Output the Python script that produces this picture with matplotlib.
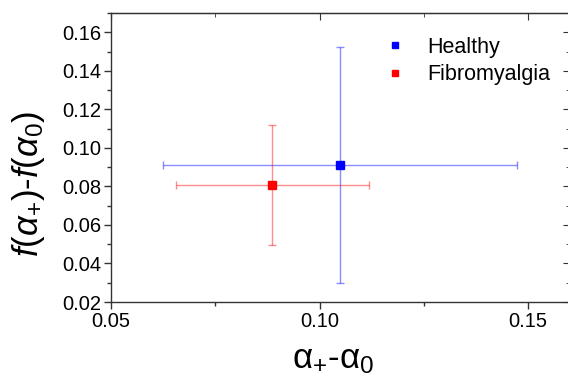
import numpy as np
import matplotlib
matplotlib.use("Agg")
import matplotlib.pyplot as plt
from matplotlib.ticker import MultipleLocator, FormatStrFormatter

# group means and error half-widths
groups = ["Healthy", "Fibromyalgia"]
x_mean = [0.1049, 0.0887]
y_mean = [0.0911, 0.0806]
x_err = [0.0424, 0.0231]
y_err = [0.0611, 0.0312]
colors = ["#0000ff", "#ff0000"]

plt.rcParams.update(
    {
        "font.family": ["Liberation Sans", "DejaVu Sans"],
        "mathtext.fontset": "custom",
        "mathtext.rm": "Liberation Sans",
        "mathtext.it": "Liberation Sans:italic",
        "font.size": 14,
    }
)

fig = plt.figure(figsize=(5.68, 3.78), dpi=100)
ax = fig.add_axes([111 / 568, 1 - 302 / 378, (569.7 - 111) / 568, (302 - 13) / 378])

for name, xm, ym, xe, ye, c in zip(groups, x_mean, y_mean, x_err, y_err, colors):
    ax.errorbar(xm, ym, xerr=xe, yerr=ye, fmt="none", ecolor=c, alpha=0.45,
                elinewidth=1, capsize=3, capthick=1)
    ax.plot(xm, ym, "s", color=c, ms=6, label=name, zorder=3)

ax.set_xlim(0.05, 0.16)
ax.set_ylim(0.02, 0.17)
ax.xaxis.set_major_locator(MultipleLocator(0.05))
ax.xaxis.set_minor_locator(MultipleLocator(0.025))
ax.yaxis.set_major_locator(MultipleLocator(0.02))
ax.yaxis.set_minor_locator(MultipleLocator(0.01))
ax.xaxis.set_major_formatter(FormatStrFormatter("%.2f"))
ax.yaxis.set_major_formatter(FormatStrFormatter("%.2f"))

ax.tick_params(which="both", direction="out", top=False, right=False, color="#333333")
ax.tick_params(which="major", length=5, width=1, labelsize=14.5, pad=2)
ax.tick_params(which="minor", length=3, width=1)
# inward ticks on top and right without labels
for side in ("top", "right"):
    sec = ax.secondary_xaxis("top") if side == "top" else ax.secondary_yaxis("right")
    axis = sec.xaxis if side == "top" else sec.yaxis
    axis.set_major_locator(MultipleLocator(0.05 if side == "top" else 0.02))
    axis.set_minor_locator(MultipleLocator(0.025 if side == "top" else 0.01))
    sec.tick_params(which="both", direction="in", labelsize=0, color="#333333")
    sec.tick_params(which="major", length=5)
    sec.tick_params(which="minor", length=3)
    axis.set_ticklabels([])

for s in ax.spines.values():
    s.set_color("#333333")
    s.set_linewidth(1)

ax.set_xlabel(r"$\mathrm{\alpha_{+}}$-$\mathrm{\alpha_{0}}$", fontsize=25)
ax.set_ylabel(r"$f(\alpha_{+})$-$f(\alpha_{0})$", fontsize=25)
ax.xaxis.set_label_coords(0.484, -0.143)
ax.yaxis.set_label_coords(-0.14, 0.41)

ax.legend(loc="upper right", bbox_to_anchor=(550 / 568, 1 - 37 / 378),
          bbox_transform=fig.transFigure, frameon=False, fontsize=15.5,
          borderpad=0, borderaxespad=0,
          handlelength=0.6, handletextpad=1.2, labelspacing=0.3, markerscale=0.75)

fig.savefig("out.png", dpi=100)
